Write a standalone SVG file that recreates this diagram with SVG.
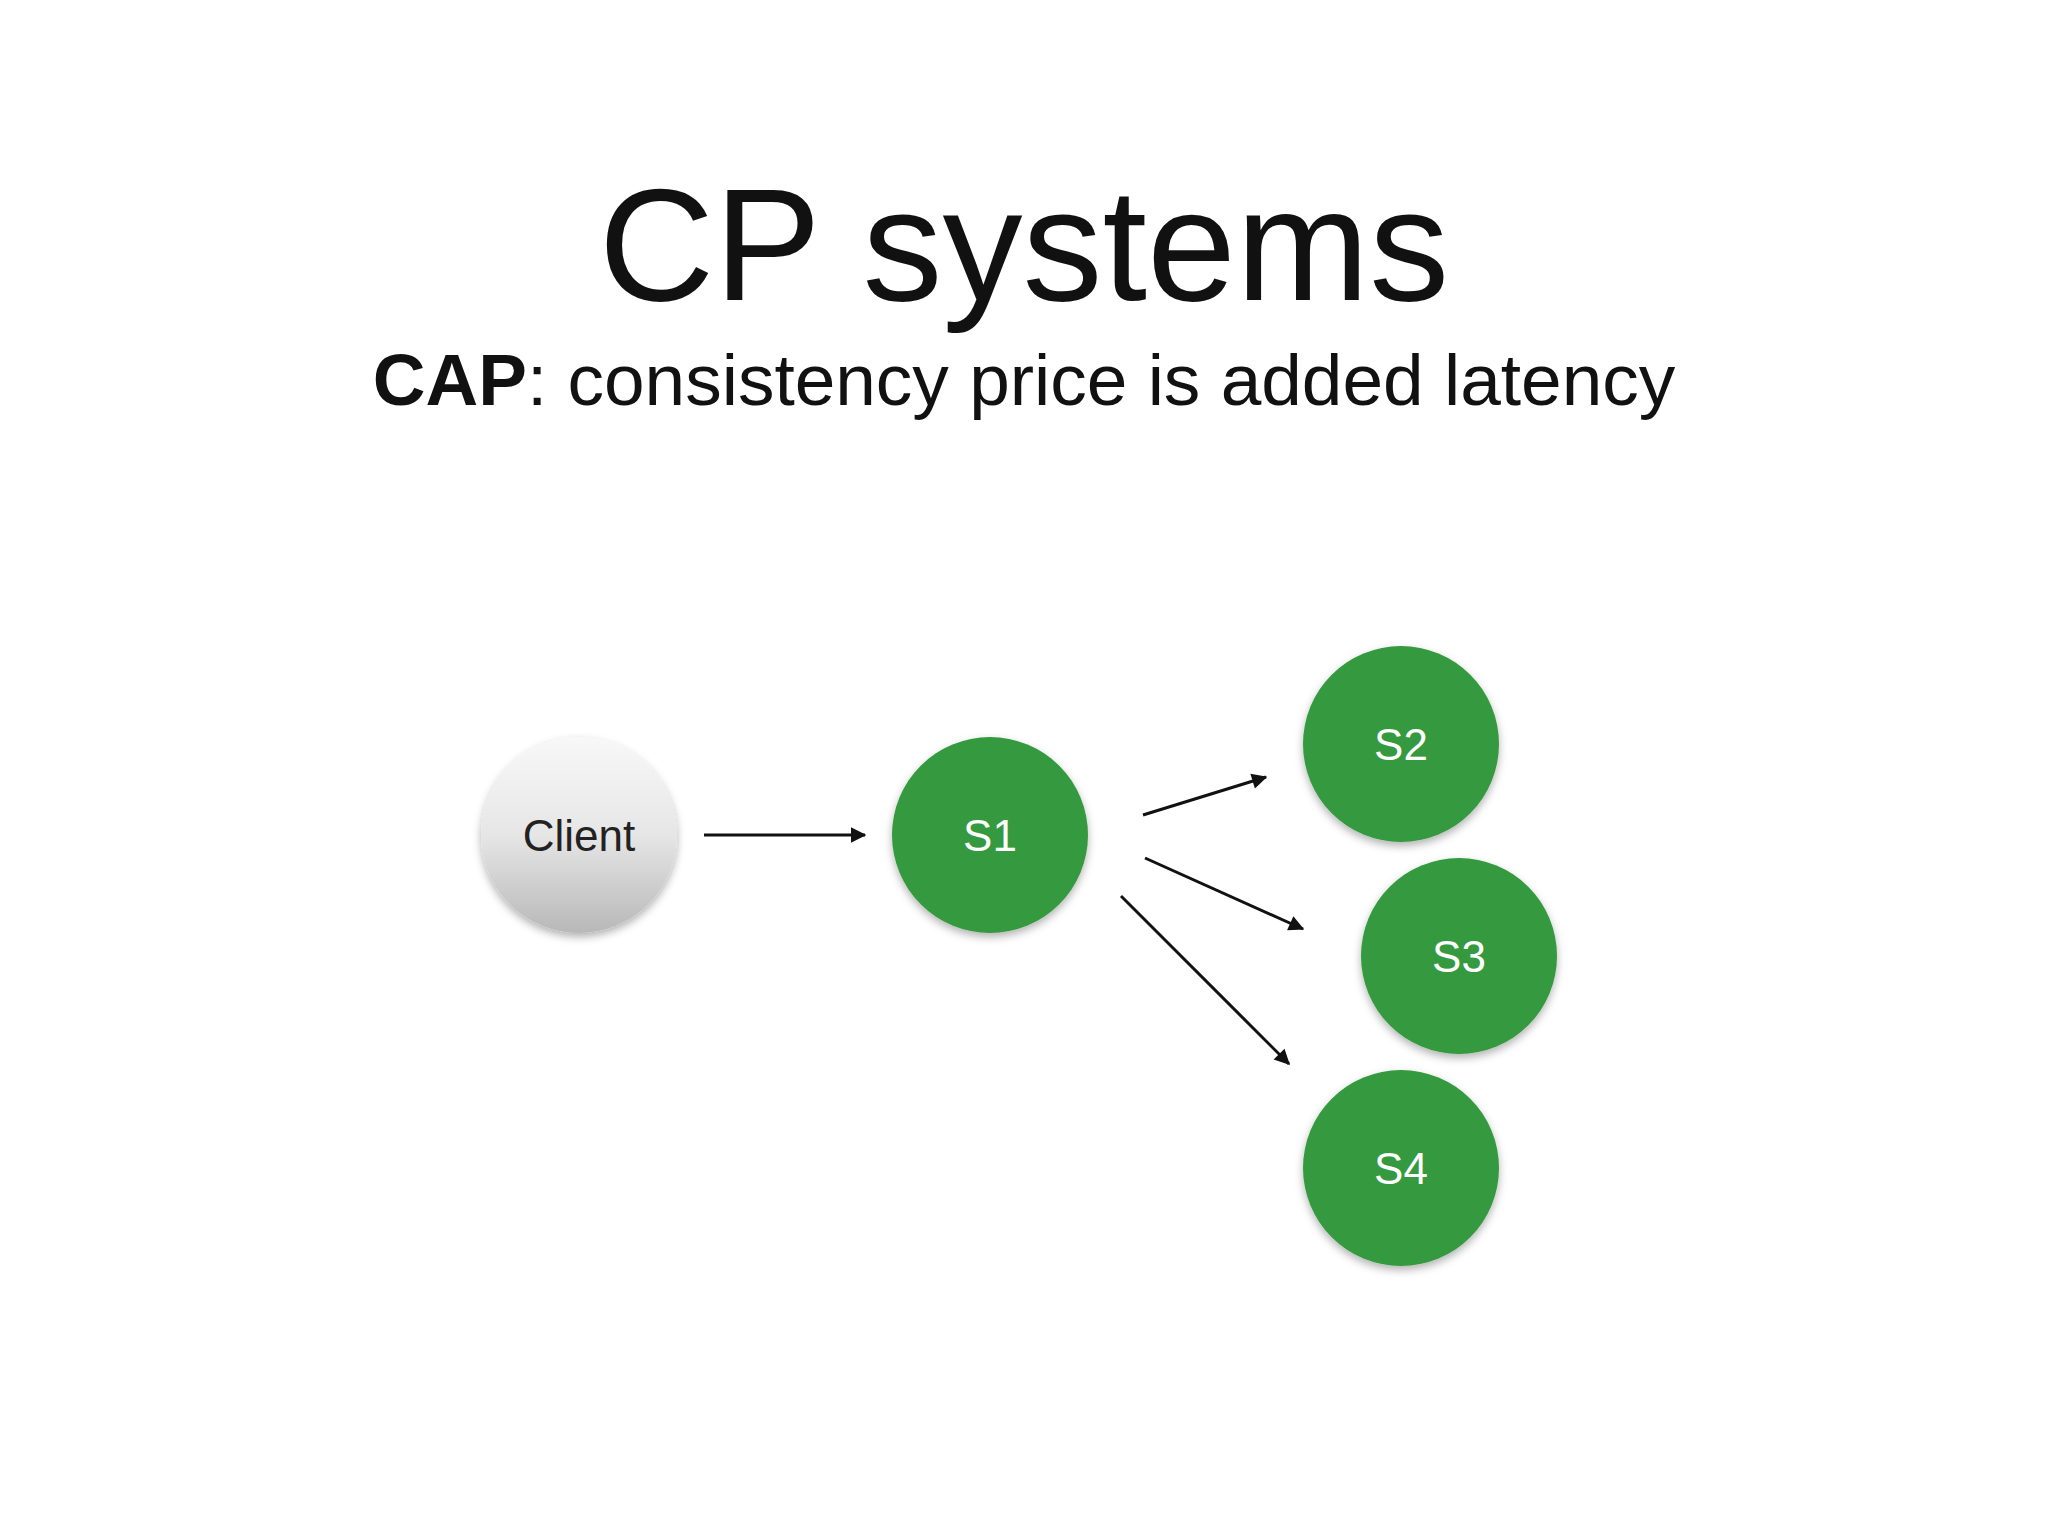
<svg xmlns="http://www.w3.org/2000/svg" width="2048" height="1536" viewBox="0 0 2048 1536">
<defs>
<style>
.t{font-family:"Liberation Sans",Arial,sans-serif;fill:#111}
.n{font-family:"Liberation Sans",Arial,sans-serif;font-size:44px;text-anchor:middle;dominant-baseline:central}
.g{fill:#35993f}
.e{stroke:#111;stroke-width:3;fill:none;marker-end:url(#a)}
</style>
<marker id="a" viewBox="0 0 10 10" refX="9" refY="5" markerWidth="7" markerHeight="7" orient="auto" markerUnits="userSpaceOnUse" style="overflow:visible"><path d="M0,0L10,5L0,10z" fill="#111" transform="scale(2.2)translate(-5,-2.7)"/></marker>
<linearGradient id="cg" x1="0" y1="0" x2="0" y2="1"><stop offset="0" stop-color="#f8f8f8"/><stop offset="0.5" stop-color="#e6e6e6"/><stop offset="1" stop-color="#b8b8b8"/></linearGradient>
<filter id="sh" x="-20%" y="-20%" width="140%" height="140%"><feDropShadow dx="0" dy="4" stdDeviation="4" flood-opacity="0.3"/></filter>
</defs>
<rect width="2048" height="1536" fill="#fff"/>
<text class="t" x="1024" y="300" font-size="160" text-anchor="middle">CP systems</text>
<text class="t" x="1024" y="405" font-size="73" text-anchor="middle"><tspan font-weight="bold">CAP</tspan>: consistency price is added latency</text>
<g id="connectors">
<line class="e" x1="704" y1="835" x2="865" y2="835"/>
<line class="e" x1="1143" y1="815" x2="1266" y2="777"/>
<line class="e" x1="1145" y1="858" x2="1303" y2="929"/>
<line class="e" x1="1121" y1="896" x2="1289" y2="1064"/>
</g>
<g id="client"><circle cx="579" cy="835" r="98" fill="url(#cg)" filter="url(#sh)"/><text class="n" x="579" y="835" fill="#222">Client</text></g>
<g id="s1"><circle class="g" cx="990" cy="835" r="98" filter="url(#sh)"/><text class="n" x="990" y="835" fill="#fff">S1</text></g>
<g id="s2"><circle class="g" cx="1401" cy="744" r="98" filter="url(#sh)"/><text class="n" x="1401" y="744" fill="#fff">S2</text></g>
<g id="s3"><circle class="g" cx="1459" cy="956" r="98" filter="url(#sh)"/><text class="n" x="1459" y="956" fill="#fff">S3</text></g>
<g id="s4"><circle class="g" cx="1401" cy="1168" r="98" filter="url(#sh)"/><text class="n" x="1401" y="1168" fill="#fff">S4</text></g>
</svg>
